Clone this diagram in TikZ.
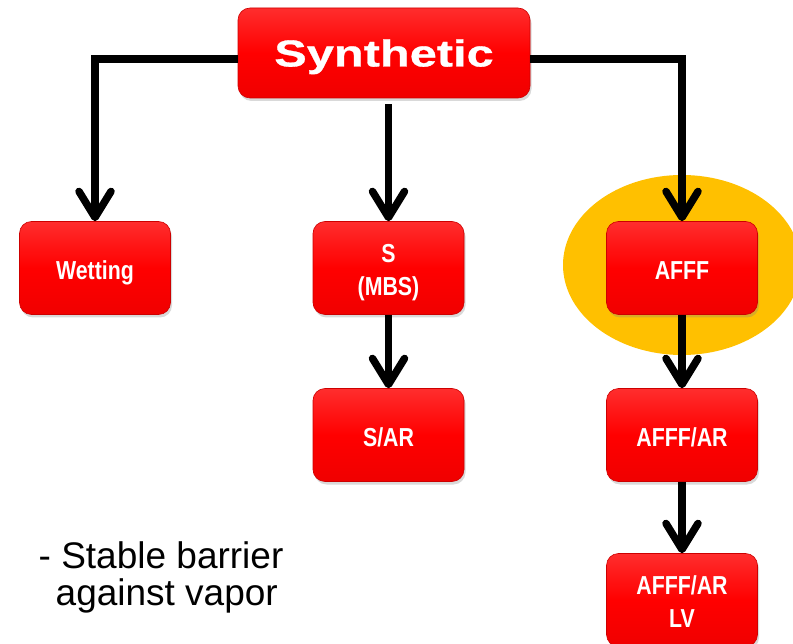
\documentclass[tikz,border=0pt]{standalone}
\usepackage{fontspec}
\setmainfont{Liberation Sans}
\newfontfamily\titlefont[FakeStretch=1.3,FakeBold=0.8]{Liberation Sans}
\newfontfamily\boxfont[FakeStretch=0.82]{Liberation Sans}
\usetikzlibrary{arrows.meta,shadows,backgrounds,trees}

\definecolor{boxred}{RGB}{255,0,0}
\definecolor{boxtop}{RGB}{255,45,45}
\definecolor{boxbot}{RGB}{240,0,0}
\definecolor{boxedge}{RGB}{205,0,0}
\definecolor{focusgold}{RGB}{255,192,0}

\tikzset{
	foambox/.style={rectangle, rounded corners=12pt, draw=boxedge, line width=0.6pt,
		top color=boxtop, bottom color=boxbot, middle color=boxred,
		drop shadow={shadow xshift=1.5pt, shadow yshift=-3pt, opacity=0.3},
		text=white, align=center, inner sep=0pt,
		minimum width=151pt, minimum height=93pt,
		font=\boxfont\fontsize{26}{32.5}\selectfont\bfseries,
		execute at begin node=\rule{0pt}{29.6pt},
		execute at end node=\rule[-6pt]{0pt}{6pt}},
	twoline/.style={text height=60pt, text depth=5.6pt},
	rootbox/.style={foambox, minimum width=292pt, minimum height=90pt,
		font=\titlefont\fontsize{37.5}{40}\selectfont\bfseries,
		execute at begin node=\rule{0pt}{34.7pt}}
}

\begin{document}
\begin{tikzpicture}[x=1pt, y=1pt,
		edge from parent/.style={draw, line width=7.5pt, -{Straight Barb[length=26pt,width=32pt,round]}},
		level 1/.style={grow via three points={one child at (4.5,-215) and
				two children at (-142.25,-215) and (151.25,-215)}},
		level 2/.style={grow=down, level distance=167pt,
			edge from parent path={(\tikzparentnode.south) -- (\tikzchildnode.north)}},
		level 3/.style={level distance=165pt}]
		\useasboundingbox (0,0) rectangle (793,-644);
		\node[rootbox] (synth) at (384,-53) {Synthetic}
		child[edge from parent path={([yshift=-6pt]\tikzparentnode.west) -| (\tikzchildnode.north)}]
			{node[foambox] (wet) {Wetting}}
		child[edge from parent path={([yshift=-6pt]\tikzparentnode.south -| \tikzchildnode.north) -- (\tikzchildnode.north)}]
			{node[foambox, twoline] (smbs) {S\\(MBS)}
			child {node[foambox] (sar) {S/AR}}
		}
		child[edge from parent path={([yshift=-6pt]\tikzparentnode.east) -| (\tikzchildnode.north)}]
			{node[foambox] (afff) {AFFF}
			child {node[foambox] (afffar) {AFFF/AR}
				child {node[foambox, twoline] (afffarlv) {AFFF/AR\\LV}}
			}
		};
		% highlight behind AFFF
		\begin{scope}[on background layer]
			\fill[focusgold] ([yshift=3pt]afff.center) ellipse [x radius=119, y radius=90];
		\end{scope}
		\node[anchor=north west, inner sep=0pt, align=left, font=\fontsize{37}{37.5}\selectfont] (note)
			at (38.5,-541) {- Stable barrier\\\hspace*{17pt}against vapor};
\end{tikzpicture}
\end{document}
